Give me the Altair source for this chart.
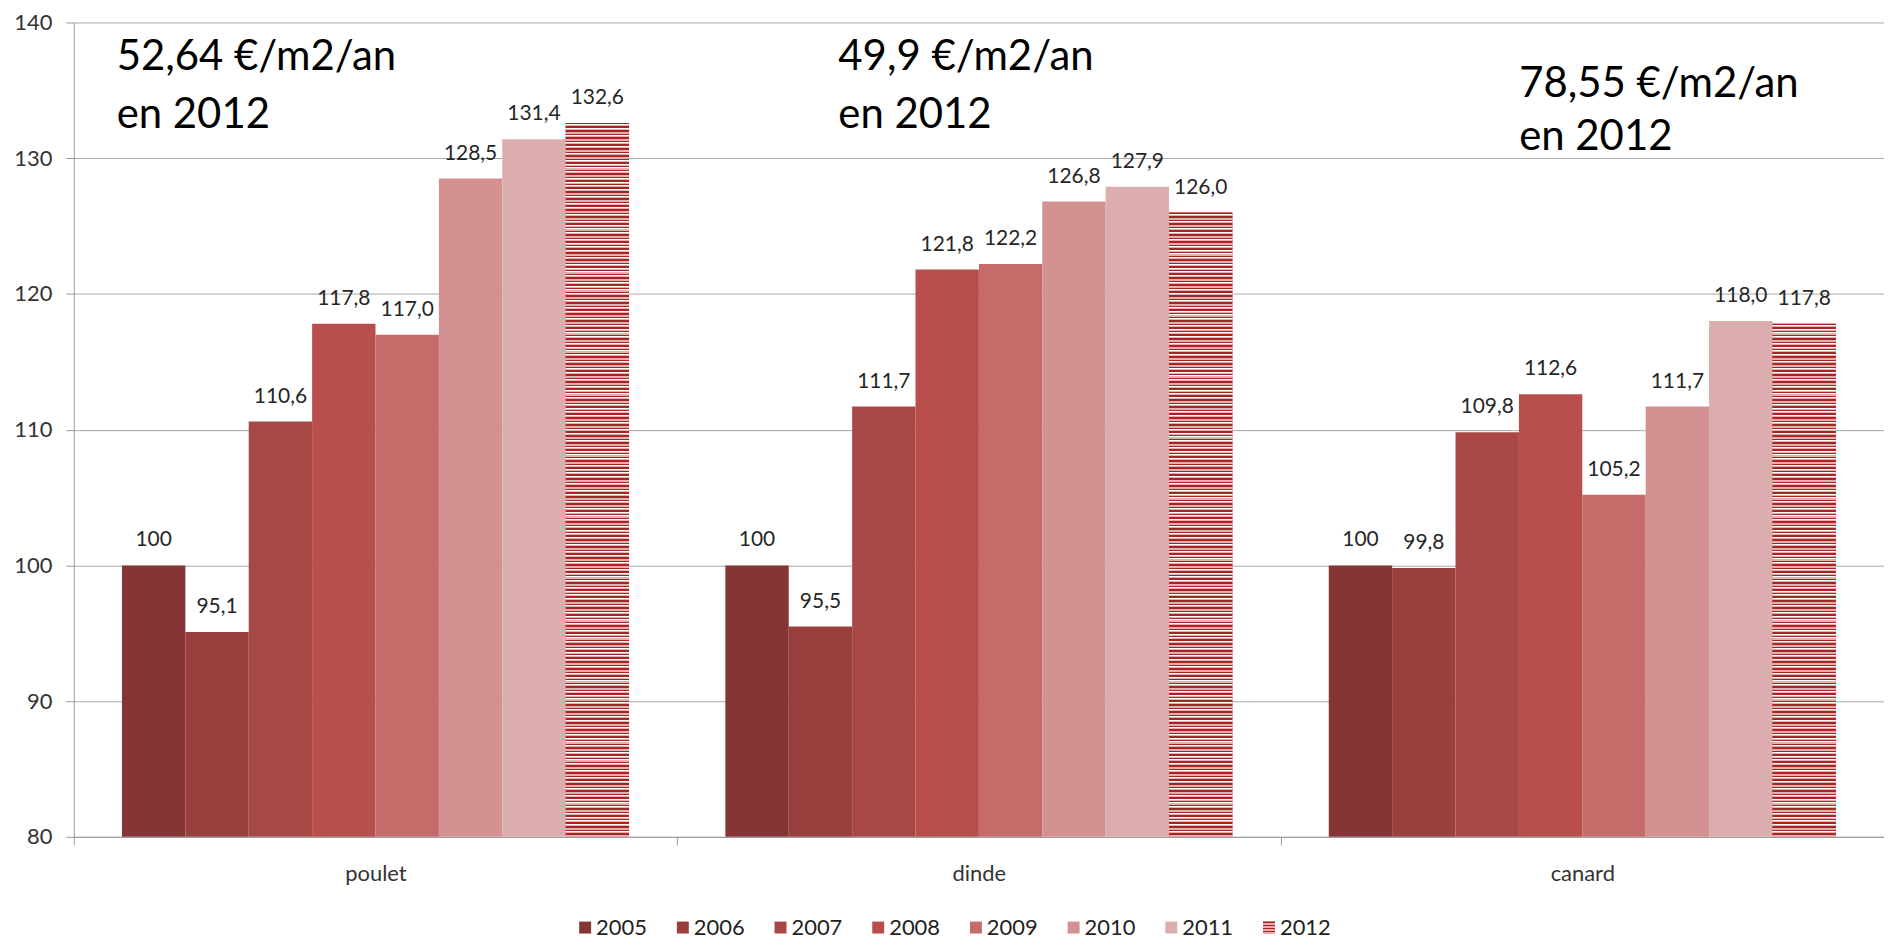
import altair as alt
import pandas as pd

# ---------------- data ----------------
categories = ["poulet", "dinde", "canard"]
years = ["2005", "2006", "2007", "2008", "2009", "2010", "2011", "2012"]
poulet = [100, 95.1, 110.6, 117.8, 117.0, 128.5, 131.4, 132.6]
dinde = [100, 95.5, 111.7, 121.8, 122.2, 126.8, 127.9, 126.0]
canard = [100, 99.8, 109.8, 112.6, 105.2, 111.7, 118.0, 117.8]
annotations = {
    "poulet": ["52,64 €/m2/an", "en 2012"],
    "dinde": ["49,9 €/m2/an", "en 2012"],
    "canard": ["78,55 €/m2/an", "en 2012"],
}

colors = ["#863535", "#993F3D", "#A84846", "#B94F4C", "#C56B69", "#D39291", "#DCADAE", "#C45A5A"]

rows = []
for cat, vals in zip(categories, [poulet, dinde, canard]):
    for yr, v in zip(years, vals):
        lab = "100" if v == 100 else f"{v:.1f}".replace(".", ",")
        rows.append(dict(cat=cat, year=yr, value=v, label=lab))
df = pd.DataFrame(rows)
legend_df = pd.DataFrame({"year": years})

# ---------------- style ----------------
FONT = "Lato"
W, H = 1816, 817
YMIN, YMAX = 80, 140
PX_PER_UNIT = H / (YMAX - YMIN)
STRIPE_PX = 3.6
LEG_Y = 908


def stripes(n):
    stops = []
    for i in range(n):
        a = i / n
        b = (i + 0.42) / n
        c = (i + 0.62) / n
        d = (i + 1) / n
        stops += [
            {"offset": a, "color": "#A82424"},
            {"offset": b, "color": "#A82424"},
            {"offset": b, "color": "#FFFFFF"},
            {"offset": c, "color": "#FFFFFF"},
            {"offset": c, "color": "#E4AFAF"},
            {"offset": d, "color": "#E4AFAF"},
        ]
    return {"gradient": "linear", "x1": 0, "y1": 0, "x2": 0, "y2": 1, "stops": stops}


x_enc = alt.X(
    "cat:N",
    sort=categories,
    scale=alt.Scale(domain=categories, paddingInner=0, paddingOuter=0),
    axis=alt.Axis(
        title=None, orient="bottom", labelFont=FONT, labelFontSize=22, labelColor="#333333",
        labelFontWeight="normal",
        labelAngle=0, tickBand="extent", tickSize=8, tickColor="#9A9A9A",
        domainColor="#9A9A9A", labelPadding=19, grid=False,
    ),
)
xoff = alt.XOffset(
    "year:N", sort=years,
    scale=alt.Scale(domain=years, paddingInner=0, paddingOuter=0.76),
)
y_enc = alt.Y(
    "value:Q",
    scale=alt.Scale(domain=[YMIN, YMAX], nice=False, zero=False),
    axis=alt.Axis(
        title=None, values=list(range(80, 141, 10)), grid=True,
        gridColor="#A8A8A8", tickSize=8, tickColor="#9A9A9A",
        domainColor="#9A9A9A", labelFont=FONT, labelFontSize=22,
        labelColor="#333333", labelPadding=14,
    ),
)
y2_enc = alt.datum(YMIN)
fill_enc = alt.Fill("year:N", scale=alt.Scale(domain=years, range=colors), legend=None)

bars = alt.Chart(df).mark_bar(strokeWidth=0).encode(
    x=x_enc, xOffset=xoff, y=y_enc, y2=y2_enc, fill=fill_enc)

main_layers = [bars]
for cat, vals in zip(categories, [poulet, dinde, canard]):
    n = max(1, round((vals[-1] - YMIN) * PX_PER_UNIT / STRIPE_PX))
    main_layers.append(
        alt.Chart(df)
        .transform_filter((alt.datum.cat == cat) & (alt.datum.year == "2012"))
        .mark_bar(fill=stripes(n), strokeWidth=0)
        .encode(x=x_enc, xOffset=xoff, y=y_enc, y2=y2_enc)
    )

labels = alt.Chart(df).mark_text(
    baseline="alphabetic", dy=-19, font=FONT, fontSize=21, color="#262626"
).encode(x=x_enc, xOffset=xoff, y=y_enc, text="label:N")
main_layers.append(labels)

# annotations (big text)
ann_pos = {"poulet": (43, 48, 106), "dinde": (767, 48, 106), "canard": (1450, 75, 128)}
for cat in categories:
    px, y1, y2 = ann_pos[cat]
    for line, yy in zip(annotations[cat], [y1, y2]):
        main_layers.append(
            alt.Chart(pd.DataFrame({"t": [line]}))
            .mark_text(align="left", baseline="alphabetic", font=FONT, fontSize=42, color="#000000")
            .encode(x=alt.value(px), y=alt.value(yy), text="t:N")
        )

main = alt.layer(*main_layers)

# custom legend
lx = alt.X("year:N", sort=years,
           scale=alt.Scale(type="point", domain=years, range=[513, 1199], padding=0),
           axis=None)
leg_sq = alt.Chart(legend_df).mark_square(size=144, opacity=1, strokeWidth=0).encode(
    x=lx, y=alt.value(LEG_Y), fill=fill_enc)
leg_sq12 = (
    alt.Chart(legend_df)
    .transform_filter(alt.datum.year == "2012")
    .mark_square(size=144, opacity=1, strokeWidth=0, fill=stripes(4))
    .encode(x=lx, y=alt.value(LEG_Y))
)
leg_txt = alt.Chart(legend_df).mark_text(
    align="left", baseline="middle", dx=11, font=FONT, fontSize=22, color="#222222"
).encode(x=lx, y=alt.value(LEG_Y), text="year:N")
legend = alt.layer(leg_sq, leg_sq12, leg_txt)

chart = (
    alt.layer(main, legend)
    .resolve_scale(x="independent")
    .properties(
        width=W, height=H,
        padding={"left": 66, "top": 13, "right": 0, "bottom": 104},
        autosize=alt.AutoSizeParams(type="none"),
        background="white",
    )
    .configure_view(stroke=None)
)

chart.save("out.html", embed_options={"renderer": "svg", "actions": False})
